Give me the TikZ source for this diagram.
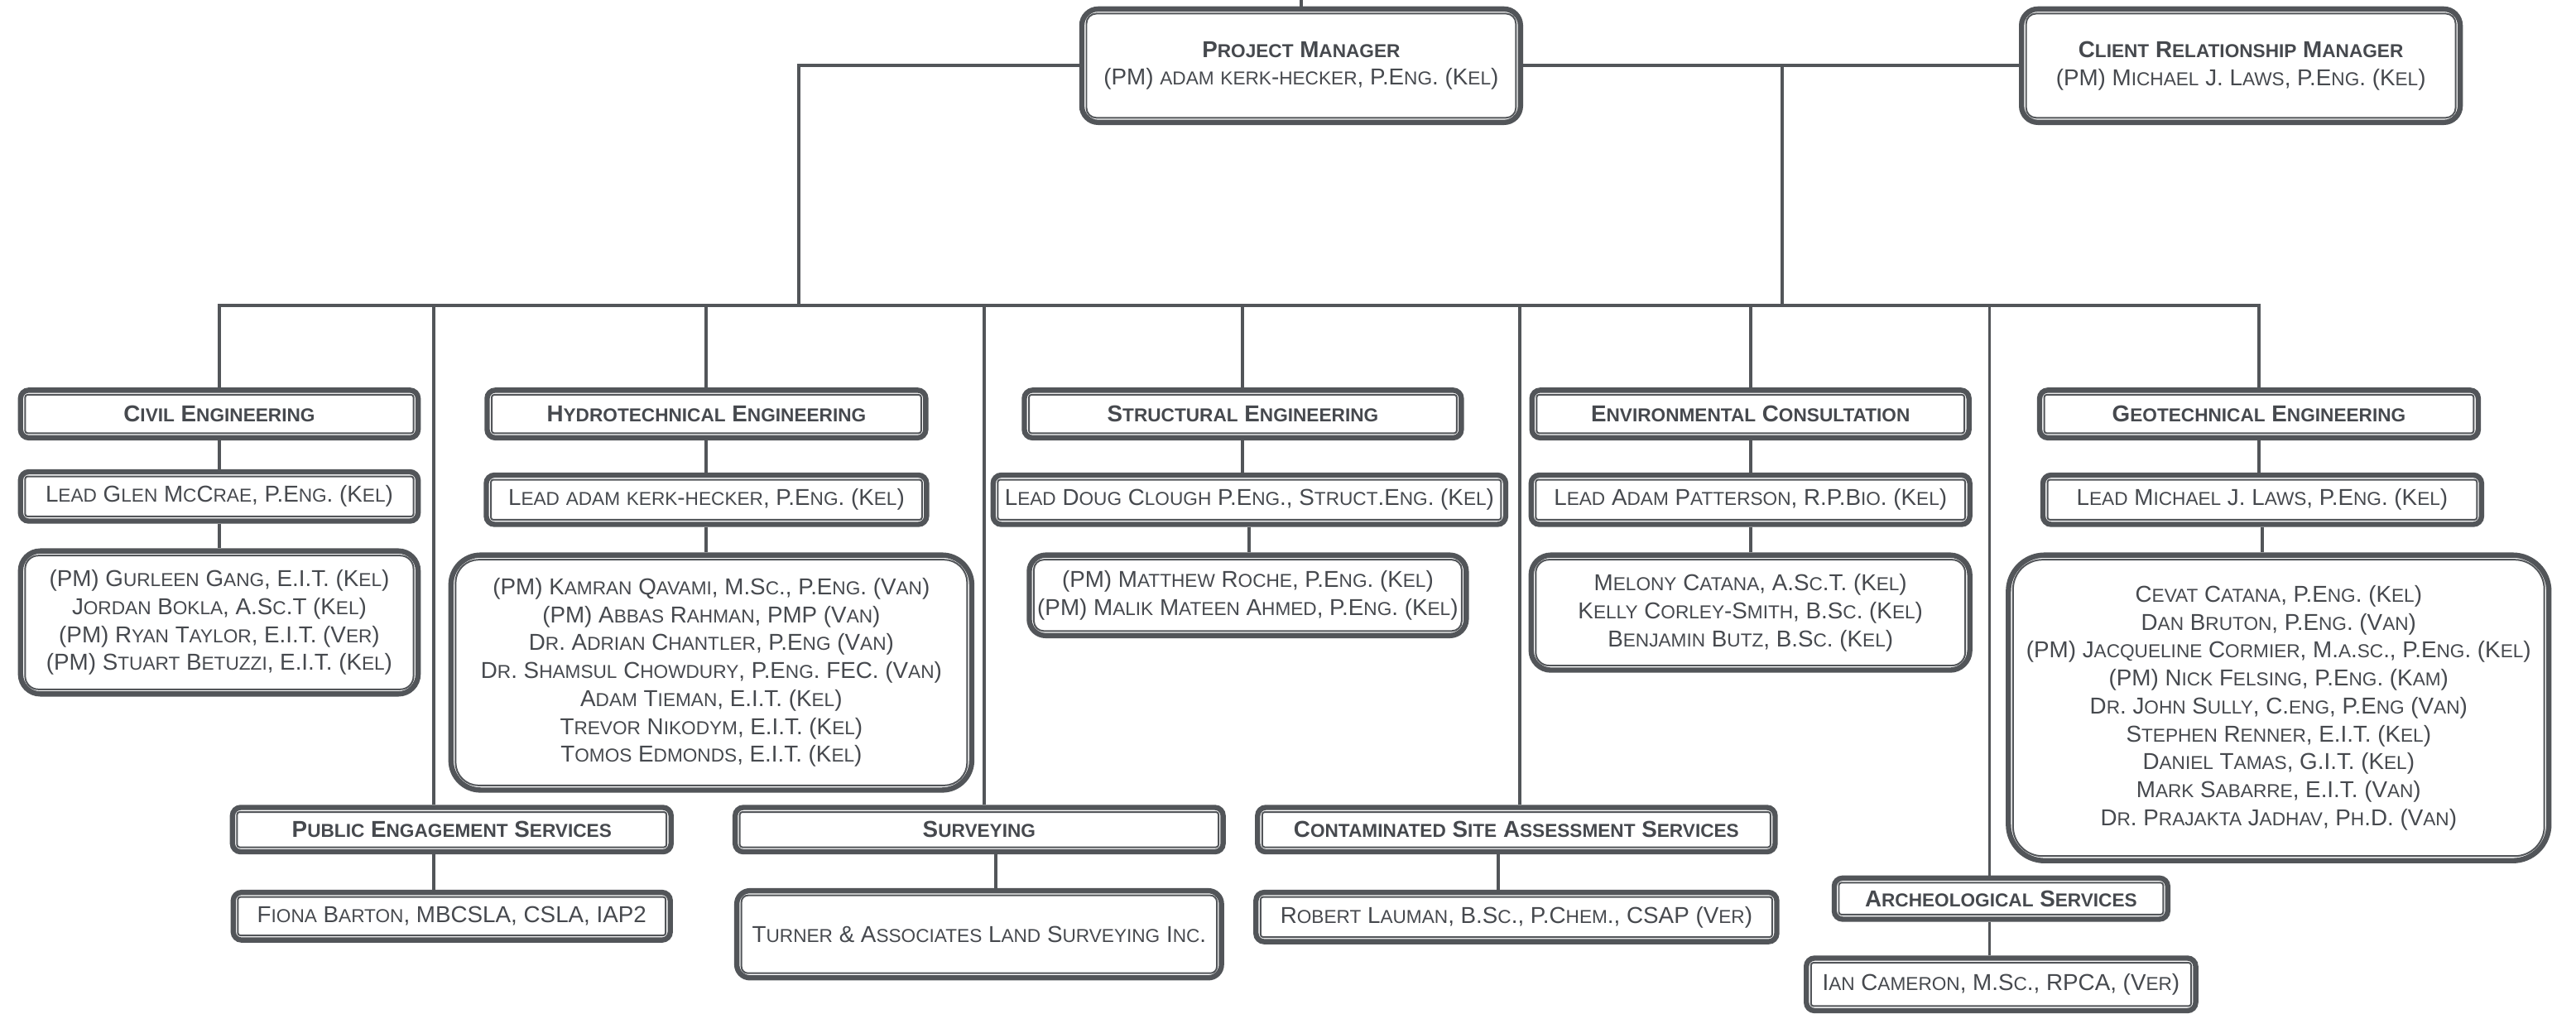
\documentclass[tikz,border=0pt]{standalone}
\usepackage{fontspec}
\setmainfont{Liberation Sans}
\usetikzlibrary{positioning}
\definecolor{orgGray}{RGB}{82,85,89}
\definecolor{orgText}{RGB}{70,73,78}

% fake small caps, | starts a new line
\ExplSyntaxOn
\NewDocumentCommand \fsc { m }
  {
    \str_map_inline:nn {#1}
      {
        \str_if_eq:nnTF {##1} {|}
          { \\ }
          {
            \str_if_in:nnTF { abcdefghijklmnopqrstuvwxyz } {##1}
              { { \fontsize{11.4}{17}\selectfont \text_uppercase:n {##1} } }
              { ##1 }
          }
      }
  }
\ExplSyntaxOff

\begin{document}
\begin{tikzpicture}[x=1pt,y=-1pt,
    box/.style={draw=orgGray,line width=3.2pt,rounded corners=5pt,fill=white,align=center,
                text=orgText,inner sep=0pt,font=\fontsize{14}{17}\selectfont},
    head/.style={box,font=\fontsize{14}{17}\selectfont\bfseries},
    team/.style={box,rounded corners=12pt},
    link/.style={draw=orgGray,line width=2pt}]
    \path[use as bounding box,fill=white] (0,0) rectangle (1568,617);

    % top
    \node[box,rounded corners=10pt,minimum width=267pt,minimum height=69pt] (pm) at (792,40)
      {{\bfseries\fsc{Project Manager}}\\\fsc{(PM) adam kerk-hecker, P.Eng. (Kel)}};
    \node[box,rounded corners=10pt,minimum width=267pt,minimum height=69pt] (crm) at (1364,40)
      {{\bfseries\fsc{Client Relationship Manager}}\\\fsc{(PM) Michael J. Laws, P.Eng. (Kel)}};

    % first row
    \node[head,minimum width=242pt,minimum height=29pt] (civT) at (133.5,252) {\fsc{Civil Engineering}};
    \node[box,minimum width=242pt,minimum height=30pt,below=17.5pt of civT] (civL) {\fsc{Lead Glen McCrae, P.Eng. (Kel)}};
    \node[team,minimum width=242pt,minimum height=87pt,below=15pt of civL] (civM)
      {\fsc{(PM) Gurleen Gang, E.I.T. (Kel)|Jordan Bokla, A.Sc.T (Kel)|(PM) Ryan Taylor, E.I.T. (Ver)|(PM) Stuart Betuzzi, E.I.T. (Kel)}};

    \node[head,minimum width=267pt,minimum height=29pt] (hydT) at (430,252) {\fsc{Hydrotechnical Engineering}};
    \node[box,minimum width=268pt,minimum height=30pt,below=19.5pt of hydT] (hydL) {\fsc{Lead adam kerk-hecker, P.Eng. (Kel)}};
    \node[team,rounded corners=18pt,minimum width=317pt,minimum height=143pt,below=15.5pt of hydL,xshift=3pt] (hydM)
      {\fsc{(PM) Kamran Qavami, M.Sc., P.Eng. (Van)|(PM) Abbas Rahman, PMP (Van)|Dr. Adrian Chantler, P.Eng (Van)|Dr. Shamsul Chowdury, P.Eng. FEC. (Van)|Adam Tieman, E.I.T. (Kel)|Trevor Nikodym, E.I.T. (Kel)|Tomos Edmonds, E.I.T. (Kel)}};

    \node[head,minimum width=266pt,minimum height=29pt] (strT) at (756.5,252) {\fsc{Structural Engineering}};
    \node[box,minimum width=312pt,minimum height=30pt,below=19.5pt of strT,xshift=4pt] (strL) {\fsc{Lead Doug Clough P.Eng., Struct.Eng. (Kel)}};
    \node[team,rounded corners=10pt,minimum width=266pt,minimum height=49pt,below=15.5pt of strL,xshift=-1pt] (strM)
      {\fsc{(PM) Matthew Roche, P.Eng. (Kel)|(PM) Malik Mateen Ahmed, P.Eng. (Kel)}};

    \node[head,minimum width=266pt,minimum height=29pt] (envT) at (1065.5,252) {\fsc{Environmental Consultation}};
    \node[box,minimum width=267pt,minimum height=30pt,below=19.5pt of envT] (envL) {\fsc{Lead Adam Patterson, R.P.Bio. (Kel)}};
    \node[team,minimum width=267pt,minimum height=70pt,below=15.5pt of envL] (envM)
      {\fsc{Melony Catana, A.Sc.T. (Kel)|Kelly Corley-Smith, B.Sc. (Kel)|Benjamin Butz, B.Sc. (Kel)}};

    \node[head,minimum width=267pt,minimum height=29pt] (geoT) at (1375,252) {\fsc{Geotechnical Engineering}};
    \node[box,minimum width=267pt,minimum height=30pt,below=19.5pt of geoT,xshift=2pt] (geoL) {\fsc{Lead Michael J. Laws, P.Eng. (Kel)}};
    \node[team,rounded corners=22pt,minimum width=329pt,minimum height=186pt,below=15.5pt of geoL,xshift=10pt] (geoM)
      {\fsc{Cevat Catana, P.Eng. (Kel)|Dan Bruton, P.Eng. (Van)|(PM) Jacqueline Cormier, M.a.sc., P.Eng. (Kel)|(PM) Nick Felsing, P.Eng. (Kam)|Dr. John Sully, C.eng, P.Eng (Van)|Stephen Renner, E.I.T. (Kel)|Daniel Tamas, G.I.T. (Kel)|Mark Sabarre, E.I.T. (Van)|Dr. Prajakta Jadhav, Ph.D. (Van)}};

    % second row
    \node[head,minimum width=267pt,minimum height=27pt] (pubT) at (275,505) {\fsc{Public Engagement Services}};
    \node[box,minimum width=266pt,minimum height=29pt,below=21.5pt of pubT] (pubM) {\fsc{Fiona Barton, MBCSLA, CSLA, IAP2}};

    \node[head,minimum width=297pt,minimum height=27pt] (surT) at (596,505) {\fsc{Surveying}};
    \node[team,rounded corners=8pt,minimum width=295pt,minimum height=53pt,below=20.5pt of surT] (surM) {\fsc{Turner & Associates Land Surveying Inc.}};

    \node[head,minimum width=315pt,minimum height=27pt] (conT) at (923,505) {\fsc{Contaminated Site Assessment Services}};
    \node[box,minimum width=317pt,minimum height=30pt,below=21.5pt of conT] (conM) {\fsc{Robert Lauman, B.Sc., P.Chem., CSAP (Ver)}};

    \node[head,minimum width=203pt,minimum height=25pt] (arcT) at (1218,547) {\fsc{Archeological Services}};
    \node[box,minimum width=237pt,minimum height=32pt,below=20.5pt of arcT] (arcM) {\fsc{Ian Cameron, M.Sc., RPCA, (Ver)}};

    % inner border of every box
    \foreach \n/\r in {pm/6pt,crm/6pt,civT/1.5pt,civL/1.5pt,civM/8pt,hydT/1.5pt,hydL/1.5pt,hydM/14pt,
        strT/1.5pt,strL/1.5pt,strM/6pt,envT/1.5pt,envL/1.5pt,envM/8pt,geoT/1.5pt,geoL/1.5pt,geoM/18pt,
        pubT/1.5pt,pubM/1.5pt,surT/1.5pt,surM/4pt,conT/1.5pt,conM/1.5pt,arcT/1.5pt,arcM/1.5pt}
      \draw[orgGray,line width=1pt,rounded corners=\r]
        ([shift={(4.4pt,4.4pt)}]\n.south west) rectangle ([shift={(-4.4pt,-4.4pt)}]\n.north east);

    % connectors
    \coordinate (top) at (792,0);
    \coordinate (hubL) at (486,40);
    \coordinate (hubR) at (1085,40);
    \coordinate (busL) at (133.5,186);
    \coordinate (busR) at (1375,186);
    \coordinate (pubX) at (264,186);
    \coordinate (surX) at (599,186);
    \coordinate (conX) at (925,186);
    \coordinate (arcX) at (1211,186);
    \draw[link] (pm.north) -- (top);
    \draw[link] (pm.west) -- (hubL) -- (hubL |- busL);
    \draw[link] (pm.east) -- (crm.west);
    \draw[link] (hubR) -- (hubR |- busL);
    \draw[link] ([xshift=-1pt]busL) -- ([xshift=1pt]busR);
    \foreach \n in {civT,hydT,strT,envT,geoT}
      \draw[link] (\n.north |- busL) -- (\n.north);
    \foreach \a/\b in {civT/civL,civL/civM,hydT/hydL,hydL/hydM,strT/strL,strL/strM,
        envT/envL,envL/envM,geoT/geoL,geoL/geoM}
      \draw[link] (\a.south) -- (\a.south |- \b.north);
    \draw[link] (pubX) -- (pubX |- pubT.north);
    \draw[link] (pubX |- pubT.south) -- (pubX |- pubM.north);
    \draw[link] (surX) -- (surX |- surT.north);
    \draw[link] ([xshift=10pt]surT.south) -- ([xshift=10pt]surT.south |- surM.north);
    \draw[link] (conX) -- (conX |- conT.north);
    \draw[link] ([xshift=-11pt]conT.south) -- ([xshift=-11pt]conT.south |- conM.north);
    \draw[link] (arcX) -- (arcX |- arcT.north);
    \draw[link] (arcX |- arcT.south) -- (arcX |- arcM.north);
\end{tikzpicture}
\end{document}
